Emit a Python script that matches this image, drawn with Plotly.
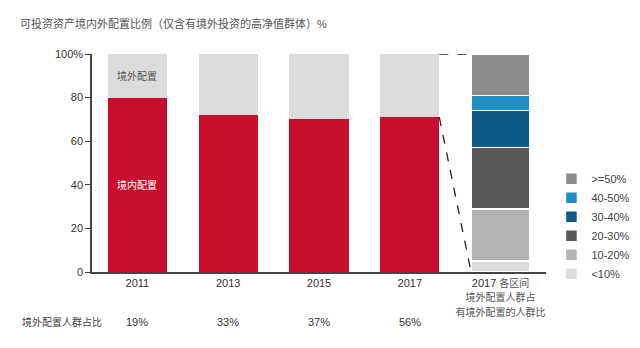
import plotly.graph_objects as go

# Share of investable assets held at home vs abroad (HNW investors with overseas holdings)
years = ["2011", "2013", "2015", "2017"]
domestic = [80, 72, 70, 71]
overseas = [20, 28, 30, 29]
overseas_people_share = ["19%", "33%", "37%", "56%"]

# 2017 breakdown: share of overseas-allocating investors by overseas allocation band
bands = ["<10%", "10-20%", "20-30%", "30-40%", "40-50%", ">=50%"]
band_shares = [5, 24, 28, 17, 7, 19]
band_colors = ["#dcdcdc", "#b4b4b4", "#585858", "#0e5a88", "#2090c2", "#8c8c8c"]

cat_labels = years + ["2017 各区间"]
cat_ticktext = years + [
    "2017 <span style='font-size:10px;color:#555'>各区间</span>"
    "<br><span style='font-size:10px;color:#555'>境外配置人群占</span>"
    "<br><span style='font-size:10px;color:#555'>有境外配置的人群比</span>"
]

FONT = "Liberation Sans, Arial, Noto Sans CJK SC, sans-serif"
RED = "#c8102e"
GREY = "#dcdcdc"
BAR_W = 0.65

fig = go.Figure()

xs = list(range(len(years)))
fig.add_bar(x=xs, y=domestic, marker=dict(color=RED, line=dict(width=0)),
            width=BAR_W, showlegend=False, hoverinfo="skip")
fig.add_bar(x=xs, y=overseas, marker=dict(color=GREY, line=dict(width=0)),
            width=BAR_W, showlegend=False, hoverinfo="skip")

bx = len(years)
for name, val, col in zip(bands, band_shares, band_colors):
    fig.add_bar(x=[bx], y=[val], name=name, width=BAR_W,
                marker=dict(color=col, line=dict(color="white", width=1.5)),
                hoverinfo="skip")

# connector lines from the 2017 bar to the breakdown bar
x_l = len(years) - 1 + BAR_W / 2
x_r = bx - BAR_W / 2
fig.add_shape(type="line", x0=x_l, x1=x_r, y0=100, y1=100,
              line=dict(color="#222", width=1.3, dash="dash"))
fig.add_shape(type="line", x0=x_l, x1=x_r, y0=domestic[-1], y1=0,
              line=dict(color="#222", width=1.3, dash="dash"))

# in-bar labels on the first bar
fig.add_annotation(x=0, y=domestic[0] + overseas[0] / 2, text="境外配置", showarrow=False,
                   font=dict(size=10, color="#555", family=FONT))
fig.add_annotation(x=0, y=domestic[0] / 2, text="境内配置", showarrow=False,
                   font=dict(size=10, color="white", family=FONT))

# bottom row: share of investors allocating overseas
ROW_Y = -0.266
fig.add_annotation(x=-0.159, xref="paper", y=ROW_Y, yref="paper", text="境外配置人群占比",
                   showarrow=False, xanchor="left", font=dict(size=10, color="#444", family=FONT))
for i, s in enumerate(overseas_people_share):
    fig.add_annotation(x=i, xref="x", y=ROW_Y, yref="paper", text=s, showarrow=False,
                       font=dict(size=11, color="#333", family=FONT))

fig.update_layout(
    width=640, height=348,
    margin=dict(l=92, r=94, t=54, b=76, autoexpand=False),
    paper_bgcolor="white", plot_bgcolor="white",
    barmode="stack", bargap=0.35,
    font=dict(family=FONT, size=11, color="#333"),
    title=dict(text="可投资资产境内外配置比例（仅含有境外投资的高净值群体）%",
               x=20 / 640, xref="container", xanchor="left",
               y=1 - 24 / 348, yref="container", yanchor="middle",
               font=dict(size=11, color="#555", family=FONT)),
    legend=dict(x=1.012, y=0.21, xanchor="left", yanchor="middle",
                traceorder="reversed", font=dict(size=11, color="#444"),
                itemwidth=30, bgcolor="rgba(0,0,0,0)", tracegroupgap=0),
    xaxis=dict(range=[-0.5, 4.5], tickvals=list(range(len(cat_labels))),
               ticktext=cat_ticktext, showline=True, linecolor="#444", linewidth=1.5,
               ticks="", showgrid=False, zeroline=False,
               tickfont=dict(size=11, color="#333")),
    yaxis=dict(range=[0, 100], tickvals=[0, 20, 40, 60, 80, 100],
               ticktext=["0", "20", "40", "60", "80", "100%"],
               showline=True, linecolor="#444", linewidth=1.5,
               ticks="outside", ticklen=5, tickcolor="#444",
               showgrid=False, zeroline=False, tickfont=dict(size=11, color="#333")),
)

fig.write_html("out.html")
